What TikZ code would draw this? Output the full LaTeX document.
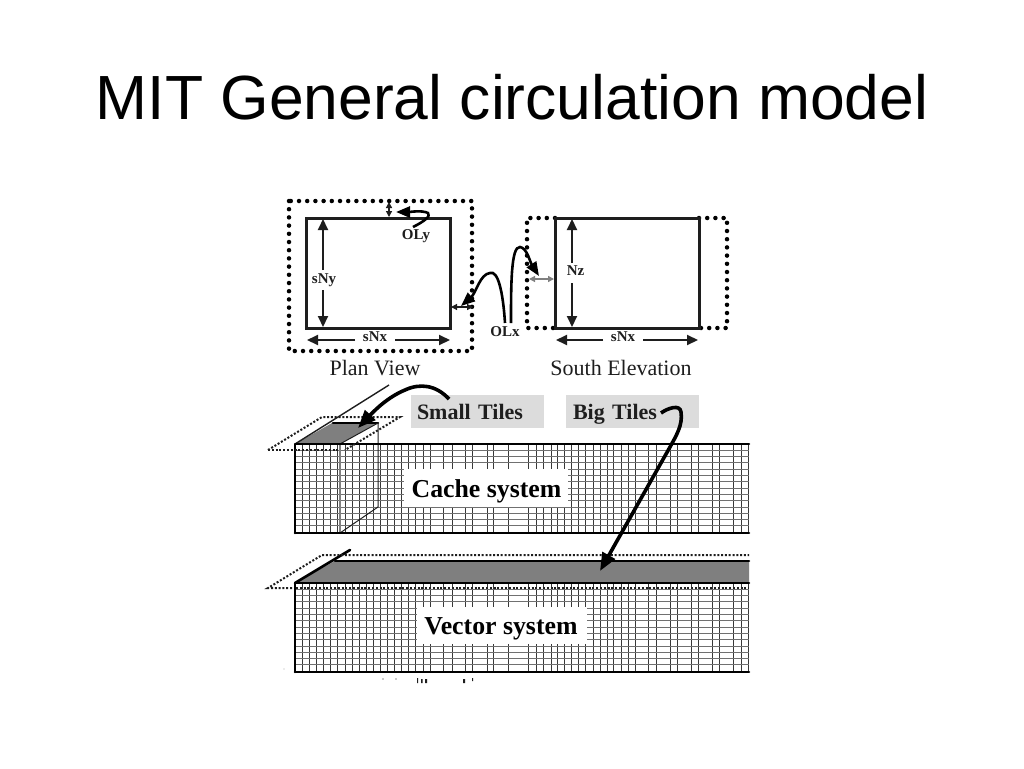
\documentclass[tikz,border=0pt]{standalone}
\usepackage{fontspec}
\setmainfont{Liberation Serif}
\newfontfamily\titlefont{Liberation Sans}
\usetikzlibrary{arrows.meta}
\definecolor{facegrey}{HTML}{7F7F7F}
\definecolor{tilegrey}{HTML}{DCDCDC}
\definecolor{inkgrey}{HTML}{1E1E1E}
\definecolor{rowgrey}{HTML}{707070}
\definecolor{colgrey}{HTML}{383838}
\tikzset{
 solidbox/.style={draw=inkgrey,line width=3pt},
 dotline/.style={draw=black,line width=4.5pt,line cap=round,dash pattern=on 0pt off 8.2pt},
 fineDots/.style={draw=inkgrey,line width=2pt,dash pattern=on 2pt off 1.8pt},
 dimend/.style={draw=inkgrey,line width=2pt,-{Triangle[length=11pt,width=10pt]}},
 smalldim/.style={draw=inkgrey,line width=1.3pt,{Triangle[length=6pt,width=6pt]}-{Triangle[length=6pt,width=6pt]}},
 curvearrow/.style={draw=black,line width=2.6pt,-{Triangle[length=14pt,width=11pt]}},
 curvethick/.style={draw=black,line width=3.6pt,-{Triangle[length=18pt,width=14pt]}},
 smalllabel/.style={font=\fontsize{15}{17}\selectfont\bfseries,text=inkgrey,inner sep=1pt},
 caption/.style={font=\fontsize{22}{25}\selectfont,text=inkgrey,inner sep=0pt},
 tilelabel/.style={font=\fontsize{22}{26}\selectfont\bfseries,text=inkgrey,fill=tilegrey,text width=133pt,align=left,minimum height=33pt,inner sep=0pt,text height=17.5pt,text depth=2.5pt},
 systemlabel/.style={font=\fontsize{25.8}{30}\selectfont\bfseries,text=black,inner sep=0pt},
 gridrow/.style={draw=rowgrey,line width=1pt},
 gridcol/.style={draw=colgrey,line width=.95pt},
 edge/.style={draw=black,line width=2.6pt,line join=round,line cap=round},
 thinedge/.style={draw=inkgrey,line width=1pt}
}
\newcommand{\colsright}{415,423,430,443,452,465,472,487,493,508,528,536,543,551,557,564,571,578,585,593,600,607,613,621,628,635,648,656,670,677,691,698,712,719,733,741,748}
\begin{document}
\begin{tikzpicture}[x=1pt,y=-1pt]
\useasboundingbox[fill=white] (0,0) rectangle (1024,768);
\node[font=\fontsize{62.4}{68}\selectfont\titlefont,text=black,inner sep=0pt] (title) at (512,97) {MIT General circulation model};

% ---- Plan view
\path[dotline] (289,201) rectangle (472,351);
\coordinate (planNW) at (306,218);
\coordinate (planSE) at (450,328);
\draw[solidbox] (planNW) rectangle (planSE);
\node[smalllabel] (sNyL) at (324,280) {sNy};
\coordinate (sNyT) at (323,219);
\coordinate (sNyB) at (323,327);
\draw[dimend] (323,270) -- (sNyT);
\draw[dimend] (323,290) -- (sNyB);
\node[smalllabel] (sNxL) at (375,337) {sNx};
\coordinate (sNxW) at (307,340);
\coordinate (sNxE) at (450,340);
\draw[dimend] (355,340) -- (sNxW);
\draw[dimend] (395,340) -- (sNxE);
\node[caption] (plan) at (375,368) {Plan View};
\node[smalllabel] (OLy) at (416,236) {OLy};
\coordinate (OLyT) at (396,212);
\coordinate (oyA) at (389,202);
\coordinate (oyB) at (389,217);
\draw[smalldim] (oyA) -- (oyB);
\draw[curvearrow] (413,227) .. controls (425,221) and (431,216) .. (428,213) .. controls (422,210) and (410,212) .. (OLyT);
\coordinate (oxA) at (451,307);
\coordinate (oxB) at (473,307);
\draw[smalldim] (oxA) -- (oxB);

% ---- South elevation
\path[dotline] (555,218) -- (527,218) -- (527,328) -- (555,328);
\path[dotline] (699,218) -- (727,218) -- (727,328) -- (699,328);
\coordinate (southNW) at (555,218);
\coordinate (southSE) at (699,328);
\draw[solidbox] (southNW) rectangle (southSE);
\node[smalllabel] (NzL) at (575.5,271) {Nz};
\coordinate (NzT) at (572,219);
\coordinate (NzB) at (572,327);
\draw[dimend] (572,263) -- (NzT);
\draw[dimend] (572,283) -- (NzB);
\node[smalllabel] (sNxS) at (623,337) {sNx};
\coordinate (sxW) at (556,340);
\coordinate (sxE) at (698,340);
\draw[dimend] (603,340) -- (sxW);
\draw[dimend] (643,340) -- (sxE);
\node[caption] (south) at (621,368) {South Elevation};
\coordinate (ozA) at (529,279);
\coordinate (ozB) at (554,279);
\draw[smalldim,draw=gray] (ozA) -- (ozB);

% ---- OLx
\node[smalllabel] (OLx) at (505,332) {OLx};
\coordinate (OLxA) at (505,323);
\coordinate (OLxB) at (511,323);
\coordinate (tipA) at (461,306);
\coordinate (tipB) at (539,276);
\draw[curvearrow] (OLxA) .. controls (503,292) and (498,270) .. (490,273) .. controls (480,274) and (476,293) .. (tipA);
\draw[curvearrow] (OLxB) .. controls (511,285) and (511,246) .. (520,247) .. controls (527,248) and (530,262) .. (tipB);

% ---- Cache system
\begin{scope}
\clip (295,444) rectangle (749,533);
\foreach \x in {302,309,316,323,330,337,345,352,359,366,373,380,387,394,401,408}
  \draw[gridcol] (\x,444) -- (\x,533);
\foreach \x in \colsright
  \draw[gridcol] (\x,444) -- (\x,533);
\foreach \j in {1,...,13}{
  \pgfmathsetmacro{\yy}{444+6.3*\j}
  \draw[gridrow] (295,\yy) -- (749,\yy);
}
\end{scope}
\fill[white] (404,469) rectangle (568,507);
\node[systemlabel] (cache) at (486.5,491) {Cache system};
\fill[white] (340,444) -- (378,423) -- (378,444) -- cycle;
\fill[facegrey] (295,444) -- (333,422.5) -- (378,422.5) -- (340,444) -- cycle;
\draw[thinedge,line width=1.4pt] (295,444) -- (389,385);
\draw[edge] (333,423) -- (378,423);
\draw[thinedge] (340,444) -- (378,423) -- (378,507) -- (340,533);
\draw[draw=gray,line width=2.6pt] (340,444) -- (340,533);
\draw[edge] (295,533) -- (295,444) -- (749,444);
\draw[edge] (295,533) -- (749,533);
\draw[fineDots] (268,450) -- (322,417) -- (400,417) -- (345,450);
\draw[fineDots] (268,450) -- (340,450);

% ---- Vector system
\begin{scope}
\clip (295,583) rectangle (749,672);
\foreach \x in {302,309,316,323,330,337,345,352,359,366,373,380,387,394,401,408}
  \draw[gridcol] (\x,583) -- (\x,672);
\foreach \x in \colsright
  \draw[gridcol] (\x,583) -- (\x,672);
\foreach \j in {1,...,13}{
  \pgfmathsetmacro{\yy}{583+6.3*\j}
  \draw[gridrow] (295,\yy) -- (749,\yy);
}
\end{scope}
\fill[white] (417,607) rectangle (587,644);
\node[systemlabel] (vector) at (501,629) {Vector system};
\fill[facegrey] (295,583) -- (335,561) -- (749,561) -- (749,583) -- cycle;
\draw[edge] (295,583) -- (350,550);
\draw[edge] (335,561) -- (749,561);
\draw[edge] (295,672) -- (295,583) -- (749,583);
\draw[edge] (295,672) -- (749,672);
\draw[fineDots] (292,588) -- (268,588) -- (322,555) -- (749,555);
\draw[fineDots] (296,588) -- (749,588);

% ---- Tile labels and their arrows
\node[tilelabel] (small) at (477.5,411.5) {\hspace*{6pt}Small Tiles};
\node[tilelabel] (big) at (632.5,411.5) {\hspace*{7pt}Big Tiles};
\coordinate (smallStart) at (449,399);
\coordinate (smallTip) at (358,428);
\coordinate (bigStart) at (661,413);
\coordinate (bigTip) at (600,571);
\draw[curvethick] (smallStart) .. controls (436,385) and (420,383) .. (405,390) .. controls (388,397) and (375,410) .. (smallTip);
\draw[curvethick] (bigStart) .. controls (668,408) and (680,404) .. (681,412) .. controls (683,425) and (676,436) .. (670,447) -- (bigTip);

% ---- Clipped remnants below the lower box
\fill[inkgrey] (383,679) circle (.7pt) (396,679) circle (.7pt) (284,669) circle (.4pt);
\fill[inkgrey] (417,678) rectangle (418,683) (421,679) rectangle (422.5,683) (425,679) rectangle (427,683) (463,679) rectangle (465,683) (472,678) rectangle (473,681);
\end{tikzpicture}
\end{document}
